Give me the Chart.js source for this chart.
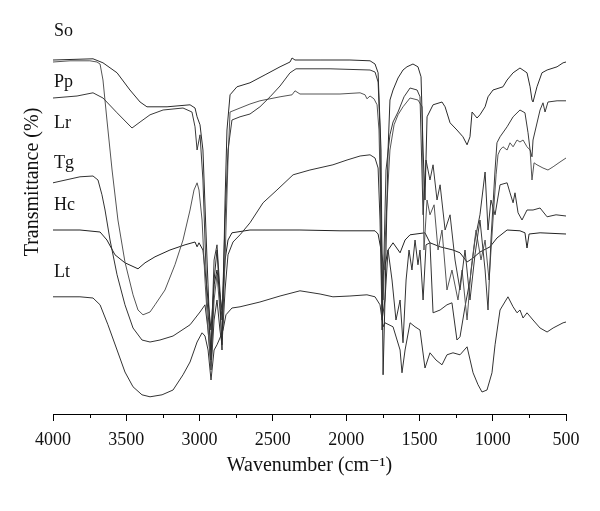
<!DOCTYPE html>
<html>
<head>
<meta charset="utf-8">
<script src="https://cdn.jsdelivr.net/npm/chart.js@4.4.1/dist/chart.umd.min.js"></script>
<style>
  html, body { margin: 0; padding: 0; background: #fff; }
  #wrap { width: 600px; height: 511px; }
</style>
</head>
<body>
<div id="wrap"><canvas id="ftir" width="600" height="511"></canvas></div>
<script>
// [wavenumber cm-1, transmittance (offset, arbitrary %)]
const soPoints = [[4000,88.5],[3727,88.8],[3659,87.8],[3563,85.3],[3475,81],[3406,78],[3359,76.8],[3222,76.8],[3065,77.3],[3031,76.5],[3017,74.3],[2997,72.3],[2977,66],[2949,38.5],[2922,13.5],[2901,33.5],[2881,41],[2861,28.5],[2847,16],[2826,53.5],[2813,71],[2792,79.8],[2745,81.8],[2656,82.8],[2553,84.8],[2451,86.8],[2383,88],[2369,89],[2349,88.5],[2178,88.5],[1974,88.5],[1837,88.3],[1803,87.5],[1782,85.3],[1762,66],[1748,9.8],[1735,28.5],[1714,66],[1701,78.5],[1680,81],[1646,84],[1612,86],[1585,86.8],[1544,87.5],[1510,86.8],[1489,84.3],[1475,66],[1462,53.5],[1448,74.3],[1407,77.3],[1346,78],[1325,76.8],[1291,72.8],[1244,71],[1203,69.3],[1175,67.3],[1155,69.3],[1141,75.5],[1107,74],[1087,74.8],[1052,76.8],[1032,79.3],[998,81],[930,81.8],[902,83.5],[861,85.3],[814,86.5],[766,85.3],[745,81.8],[732,78.5],[725,78],[698,81.8],[664,85.3],[629,86],[561,86.8],[520,87.8],[500,88]];

const ppPoints = [[4000,79],[3836,79.5],[3727,80.3],[3659,79],[3563,75.3],[3461,71.5],[3406,73],[3338,74.8],[3249,76],[3113,76.5],[3052,75.5],[3031,71.8],[3017,66],[2997,69.8],[2977,58.5],[2949,28.5],[2922,16],[2901,38.5],[2881,42.3],[2861,31],[2847,23.5],[2826,48.5],[2806,66],[2779,73.5],[2724,74.3],[2656,75],[2588,76.8],[2519,79.3],[2451,82],[2383,85.3],[2342,86.3],[2110,86.3],[1837,86],[1803,85.5],[1782,83],[1769,71],[1755,21],[1741,41],[1728,61],[1701,69.8],[1680,73],[1646,75.5],[1605,79.3],[1564,81.5],[1516,81],[1496,79.3],[1475,49.8],[1455,63.5],[1428,58.5],[1407,62.3],[1380,53.5],[1359,57.3],[1325,46],[1291,49.8],[1257,38.5],[1223,31],[1189,41],[1155,28.5],[1121,39.8],[1087,48.5],[1052,36],[1032,26],[1012,43.5],[984,61],[971,67.8],[950,69.3],[902,71.8],[861,74.3],[814,76],[780,75.3],[759,70.3],[745,66],[732,64.3],[725,68.5],[677,76],[657,77.8],[643,75.5],[623,78],[561,78.3],[500,78.3]];

const lrPoints = [[4000,88],[3884,88.3],[3748,88.3],[3700,88],[3679,87.5],[3659,83.5],[3632,73.5],[3597,61],[3557,48.5],[3509,38],[3454,29.8],[3420,26],[3386,24.8],[3338,25.5],[3304,27.3],[3236,31],[3168,37.3],[3113,43.5],[3065,51],[3038,56],[3017,57.8],[3004,56],[2983,48.5],[2963,33.5],[2942,21],[2922,12.3],[2901,28.5],[2881,34.8],[2861,26],[2847,18.5],[2826,38.5],[2806,63.5],[2792,75.5],[2724,76.5],[2656,77.5],[2588,78.3],[2451,79.3],[2369,79.8],[2349,80.8],[2315,80],[2042,80],[1905,80.3],[1871,79.8],[1858,78.8],[1837,79.5],[1810,78.8],[1789,77.3],[1776,71],[1762,48.5],[1748,28.5],[1728,48.5],[1701,66],[1673,72.3],[1646,74.8],[1612,76.8],[1564,79],[1510,78.5],[1482,76.8],[1469,41],[1448,53.5],[1428,49.8],[1400,52.3],[1373,41],[1346,46],[1312,31],[1278,36],[1237,28.5],[1209,36],[1175,23.5],[1148,36],[1114,46],[1080,38.5],[1052,43.5],[1025,33.5],[998,48.5],[977,59.8],[964,64.8],[950,66],[930,66.8],[902,66],[882,67.8],[861,66.8],[834,68.5],[814,68],[793,68.5],[766,66.8],[745,66],[732,58.5],[718,62.8],[698,62.3],[657,61.5],[623,61],[588,61.8],[541,63],[500,64]];

const tgPoints = [[4000,57.8],[3816,59.3],[3727,59.5],[3693,58.5],[3666,54.8],[3645,51],[3611,43.5],[3563,34.8],[3509,27.3],[3454,21.5],[3393,18.5],[3338,18],[3270,18.5],[3181,19.5],[3065,22.3],[2997,25.5],[2963,27.3],[2942,21],[2922,11],[2901,23.5],[2881,28.5],[2861,21],[2847,17.3],[2826,31],[2806,39.8],[2772,43],[2724,44.8],[2656,47.8],[2567,52.8],[2472,56],[2362,59.8],[2247,61],[2090,62.3],[1994,63.5],[1905,64.5],[1837,64.8],[1803,64],[1782,61.5],[1769,48.5],[1755,23.5],[1735,28.5],[1714,41],[1687,33.5],[1660,23.5],[1632,28.5],[1612,17.8],[1591,33.5],[1571,41],[1551,36],[1530,43.5],[1510,37.3],[1496,41],[1475,28.5],[1455,42.3],[1428,42.8],[1407,25.3],[1359,26],[1312,27.3],[1278,27.8],[1244,18.5],[1223,19.3],[1189,26.8],[1155,33.5],[1121,43.5],[1087,49.8],[1052,60.5],[1032,46],[1012,53.5],[984,49.8],[950,57.3],[902,57.8],[882,55.3],[861,52.8],[848,55.3],[827,50.3],[800,48.5],[766,51],[725,51],[677,51.5],[629,49.3],[568,49.8],[500,49.5]];

const hcPoints = [[4000,46],[3816,46],[3679,45.5],[3632,43.5],[3577,39.8],[3509,37.8],[3420,36.3],[3372,37.8],[3304,39.3],[3202,41],[3099,42.3],[3031,43],[3017,41.8],[3004,42.8],[2977,41],[2949,31],[2922,21],[2901,32.3],[2881,36],[2861,29.8],[2847,26],[2826,38.5],[2806,43.5],[2779,45.3],[2656,46],[2315,46],[2042,45.8],[1803,45.8],[1782,45],[1762,41],[1741,36],[1714,41],[1680,42.8],[1632,40.3],[1598,43.5],[1564,44.8],[1462,45.3],[1428,42.8],[1359,41.8],[1271,41],[1223,40.3],[1175,38],[1134,39],[1087,40.5],[1018,41.8],[971,44],[902,46],[814,45.8],[780,45.3],[766,41.5],[752,45],[677,45.3],[500,45]];

const ltPoints = [[4000,29.3],[3816,29.3],[3727,29],[3679,27.3],[3625,22.3],[3563,16],[3509,10.5],[3454,6.8],[3393,4.8],[3338,4.3],[3256,4.8],[3181,6],[3113,9.8],[3065,13],[3017,18],[2983,20.3],[2963,19.5],[2942,16],[2922,8.5],[2901,16],[2881,17.3],[2861,19],[2840,21],[2820,24.8],[2779,26.5],[2724,26.8],[2588,28],[2451,29.5],[2315,30.8],[2178,30],[2090,29.3],[1974,29.5],[1858,29.8],[1803,29.3],[1769,27.3],[1748,21.8],[1735,22.8],[1680,21.8],[1632,16],[1619,10.3],[1598,16],[1564,22.8],[1530,21.8],[1496,21],[1462,11.5],[1428,15.3],[1387,13.5],[1346,12.3],[1312,14.8],[1271,15.3],[1223,14.8],[1175,16.8],[1134,10.3],[1100,7.3],[1073,5.5],[1039,6],[1005,10.3],[984,17.3],[950,26],[896,29.3],[861,26.8],[834,25.3],[814,26],[793,24],[766,25.3],[725,23.5],[677,21.5],[629,20.5],[588,21.5],[520,22.8],[500,23]];

const curveNames = ['So', 'Pp', 'Lr', 'Tg', 'Hc', 'Lt'];
const labelLevels = [94.5, 81.75, 71.5, 61.5, 51, 34.25];
const minorTicks = [3750, 3250, 2750, 2250, 1750, 1250, 750];

const serif = '"Liberation Serif", "DejaVu Serif", serif';
Chart.defaults.font.family = serif;
Chart.defaults.color = '#111';

const toXY = pts => pts.map(p => ({ x: p[0], y: p[1] }));
const allPoints = [soPoints, ppPoints, lrPoints, tgPoints, hcPoints, ltPoints];
const lineColors = ['#2b2b2b', '#3a3a3a', '#555', '#333', '#222', '#333'];

// extra drawing: minor ticks, curve labels, y title
const extras = {
    id: 'extras',
    afterDraw(chart) {
        const { ctx } = chart;
        const x = chart.scales.x, y = chart.scales.y;
        ctx.save();
        ctx.strokeStyle = '#000';
        ctx.lineWidth = 1;
        minorTicks.forEach(w => {
            const px = Math.round(x.getPixelForValue(w)) + 0.5;
            ctx.beginPath();
            ctx.moveTo(px, y.bottom);
            ctx.lineTo(px, y.bottom + 4);
            ctx.stroke();
        });

        ctx.fillStyle = '#111';
        ctx.font = '18px ' + serif;
        ctx.textAlign = 'left';
        ctx.textBaseline = 'alphabetic';
        curveNames.forEach((name, i) => {
            ctx.fillText(name, x.getPixelForValue(4000) + 1, y.getPixelForValue(labelLevels[i]));
        });

        ctx.font = '20px ' + serif;
        ctx.translate(33, 182);
        ctx.rotate(-Math.PI / 2);
        ctx.textAlign = 'center';
        ctx.textBaseline = 'middle';
        ctx.fillText('Transmittance (%)', 0, 0);
        ctx.restore();
    }
};

new Chart(document.getElementById('ftir'), {
    type: 'line',
    data: {
        datasets: allPoints.map((pts, i) => ({
            label: curveNames[i],
            data: toXY(pts),
            borderColor: lineColors[i],
            borderWidth: 1,
            pointRadius: 0,
            tension: 0,
            fill: false
        }))
    },
    options: {
        responsive: false,
        animation: false,
        layout: { padding: { left: 53, right: 34, top: 14, bottom: 0 } },
        plugins: {
            legend: { display: false },
            tooltip: { enabled: false }
        },
        scales: {
            x: {
                type: 'linear',
                reverse: true,
                min: 500,
                max: 4000,
                afterFit: scale => { scale.height = 97; },
                border: { display: true, color: '#000', width: 1 },
                grid: { drawOnChartArea: false, drawTicks: true, tickLength: 7, color: '#000' },
                ticks: {
                    stepSize: 500,
                    maxRotation: 0,
                    padding: 8,
                    color: '#111',
                    font: { size: 18 },
                    callback: v => String(v)
                },
                title: {
                    display: true,
                    text: 'Wavenumber (cm\u207B\u00B9)',
                    color: '#111',
                    font: { size: 20 },
                    padding: { top: 0, bottom: 33 }
                }
            },
            y: {
                display: false,
                min: 0,
                max: 100
            }
        }
    },
    plugins: [extras]
});
</script>
</body>
</html>
